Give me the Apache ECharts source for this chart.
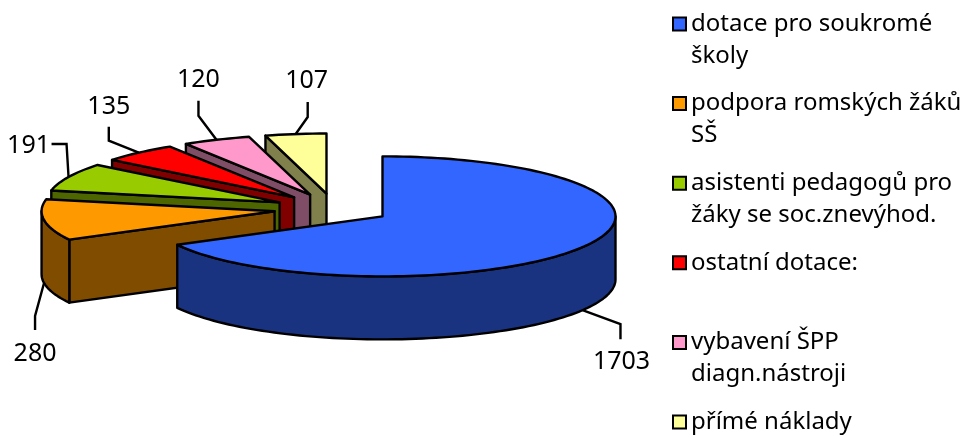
<!DOCTYPE html>
<html><head><meta charset="utf-8">
<style>html,body{margin:0;padding:0;background:#fff}#c{width:965px;height:437px}</style>
<script src="https://cdn.jsdelivr.net/npm/echarts@6/dist/echarts.min.js"></script>
</head><body><div id="c"></div>
<script>
const categories = ['dotace pro soukromé\nškoly','podpora romských žáků\nSŠ','asistenti pedagogů pro\nžáky se soc.znevýhod.','ostatní dotace:\n ','vybavení ŠPP\ndiagn.nástroji','přímé náklady\n '];
const values = [1703,280,191,135,120,107];
const topColors = ['#3366ff','#ff9900','#99cc00','#ff0000','#ff99cc','#ffff99'];
const wallColors = ['#1a3380','#804d00','#4d6600','#800000','#804d66','#80804d'];
const explodeBy = [0.24,0.26,0.26,0.26,0.26,0.26];
// leader layout: bend points relative to the rim anchor, label offset relative to the last point
const leaderBends = [[[38,14],[38,29]],[[-9,33],[-9,47]],[[-2,-33],[-17,-33]],[[-30,-12],[-30,-26]],[[-18,-24],[-18,-39]],[[12,-17],[12,-32]]];
const labelOffsets = [[1,23],[0,24],[-23,2],[0,-20],[0,-21],[-1,-21]];
const rimDepth = [1,1,0,0,0,0];

const FONT = '"Noto Sans"';
const CX=334.5, CY=209, RX=233, RY=60, DEPTH=63;
const total = values.reduce((a,b)=>a+b,0);
const pt=(c,t,k=1)=>[c[0]+k*RX*Math.sin(t), c[1]-k*RY*Math.cos(t)];
const down=p=>[p[0],p[1]+DEPTH];
const style=(fill)=>({fill,stroke:'#000',lineWidth:2.4,lineJoin:'round'});
function arc(c,a,b){const n=Math.max(2,Math.ceil(Math.abs(b-a)/0.03));const o=[];for(let i=0;i<=n;i++)o.push(pt(c,a+(b-a)*i/n));return o;}

function renderSlice(i,api){
  const before=values.slice(0,i).reduce((a,b)=>a+b,0);
  const a=before/total*2*Math.PI, b=(before+api.value(0))/total*2*Math.PI, m=(a+b)/2;
  const c=pt([CX,CY],m,explodeBy[i]);
  const kids=[];
  const poly=(points,fill)=>kids.push({type:'polygon',shape:{points},style:style(fill)});
  if(Math.sin(a)<0){const r=pt(c,a);poly([c,r,down(r),down(c)],wallColors[i]);}
  const s=Math.max(a,Math.PI/2), e=Math.min(b,1.5*Math.PI);
  if(e>s){const top=arc(c,s,e);poly(top.concat(top.map(down).reverse()),wallColors[i]);}
  poly([c].concat(arc(c,a,b)),topColors[i]);
  let anchor=pt(c,m); if(rimDepth[i])anchor=down(anchor);
  const pts=[anchor].concat(leaderBends[i].map(o=>[anchor[0]+o[0],anchor[1]+o[1]]));
  kids.push({type:'polyline',shape:{points:pts},style:{fill:null,stroke:'#000',lineWidth:2.4}});
  const last=pts[pts.length-1];
  kids.push({type:'text',style:{text:String(api.value(0)),x:last[0]+labelOffsets[i][0],y:last[1]+labelOffsets[i][1],
    fill:'#000',font:'25px '+FONT,align:'center',verticalAlign:'middle'}});
  return {type:'group',children:kids};
}

const chart=echarts.init(document.getElementById('c'),null,{renderer:'canvas'});
const series=values.map((v,i)=>({
  type:'custom',name:categories[i],coordinateSystem:'none',silent:true,animation:false,
  itemStyle:{color:topColors[i]},data:[[v]],
  renderItem:(p,api)=>renderSlice(i,api)
})).reverse();
chart.setOption({
  animation:false,
  legend:{show:true,left:667,top:-29,height:700,orient:'vertical',selectedMode:false,icon:'rect',
    data:categories,formatter:n=>' \n'+n,itemWidth:13,itemHeight:13,itemGap:-16.4,
    itemStyle:{borderColor:'#000',borderWidth:2},
    textStyle:{fontFamily:FONT,fontSize:24,lineHeight:32,color:'#000'}},
  series
});
</script></body></html>
